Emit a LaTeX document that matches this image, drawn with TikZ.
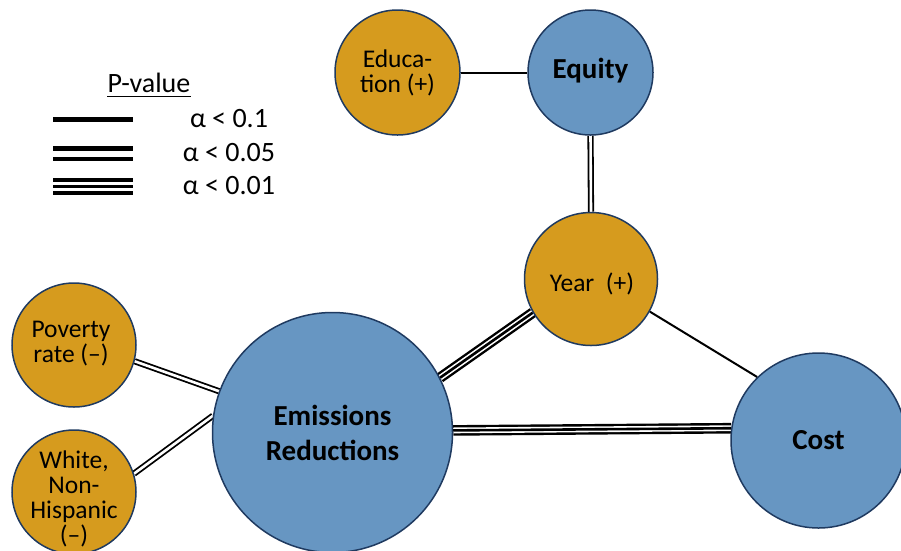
\documentclass[tikz,border=0pt]{standalone}
\usepackage{fontspec}
\setmainfont{Carlito}
\usetikzlibrary{calc}
\pgfdeclarelayer{bg}
\pgfsetlayers{bg,main}
\definecolor{org}{HTML}{D69B1E}
\definecolor{blu}{HTML}{6796C2}
\definecolor{rim}{HTML}{1F3A60}
\tikzset{
  circ/.style={circle, draw=rim, line width=1.5pt, inner sep=0pt, minimum size=#1},
  onode/.style={circ=#1, fill=org},
  bnode/.style={circ=#1, fill=blu},
  otext/.style={align=center, inner sep=0pt, font=\fontsize{25.5}{25}\selectfont},
  btext/.style={align=center, inner sep=0pt, font=\fontsize{29}{35}\selectfont\bfseries},
  ltext/.style={inner sep=0pt, font=\fontsize{28}{32}\selectfont},
  single/.style={draw=black, line width=2pt},
  dbl/.style={draw=black, line width=1.8pt, double=white, double distance=2.6pt},
  tripback/.style={draw=black, line width=10.6pt},
  tripfront/.style={draw=white, line width=1.6pt, double=black, double distance=2.6pt},
  lsingle/.style={draw=black, line width=5pt},
  ldbl/.style={draw=black, line width=4.6pt, double=white, double distance=6pt},
  ltripback/.style={draw=black, line width=16.5pt},
  ltripfront/.style={draw=white, line width=3pt, double=black, double distance=3.5pt}
}
\begin{document}
\begin{tikzpicture}[x=1pt, y=-1pt]
\useasboundingbox (0,0) rectangle (901,550);

% nodes
\node[onode=125] (edu) at (397.5,72.5) {};
\node[bnode=125] (eq) at (590.5,72.5) {};
\node[onode=133] (yr) at (591,279) {};
\node[bnode=240] (em) at (332.5,432.5) {};
\node[bnode=175] (cost) at (818.5,440.5) {};
\node[onode=124] (pov) at (74,345) {};
\node[onode=124] (wh) at (74,492) {};

% labels
\node[otext] (edu-t) at (397.5,73) {Educa-\\tion (+)};
\node[btext] (eq-t) at (590.5,71) {Equity};
\node[otext] (yr-t) at (592,284) {Year~ (+)};
\node[btext] (em-t) at (332.5,432.5) {Emissions\\Reductions};
\node[btext] (cost-t) at (818.5,440) {Cost};
\node[otext] (pov-t) at (71,344) {Poverty\\rate (–)};
\node[otext] (wh-t) at (74,499) {White,\\Non-\\Hispanic\\(–)};

% connectors
\begin{pgfonlayer}{bg}
\draw[single] (edu.east) -- (eq.west);
\draw[dbl] (eq.south) -- (yr.north);
\draw[tripback] (em.27) -- (yr.210);
\draw[tripfront] (em.27) -- (yr.210);
\draw[tripback] (em.1) -- (cost.172);
\draw[tripfront] (em.1) -- (cost.172);
\draw[single] (yr.-29) -- (cost.134);
\draw[dbl] (pov.-15) -- (em.160);
\draw[dbl] (wh.17) -- (em.172);
\end{pgfonlayer}

% legend
\node[ltext] (pv) at (149,83) {P-value};
\draw[line width=1.6pt] ([yshift=-4pt]pv.base west) -- ([yshift=-4pt]pv.base east);
\coordinate (l1a) at (53,119); \coordinate (l1b) at (133,119);
\coordinate (l2a) at (53,153.5); \coordinate (l2b) at (133,153.5);
\coordinate (l3a) at (53,186.5); \coordinate (l3b) at (133,186.5);
\draw[lsingle] (l1a) -- (l1b);
\draw[ldbl] (l2a) -- (l2b);
\draw[ltripback] (l3a) -- (l3b);
\draw[ltripfront] (l3a) -- (l3b);
\node[ltext] (a1) at (229,119) {α < 0.1};
\node[ltext] (a2) at (229,153) {α < 0.05};
\node[ltext] (a3) at (229,186) {α < 0.01};
\end{tikzpicture}
\end{document}
